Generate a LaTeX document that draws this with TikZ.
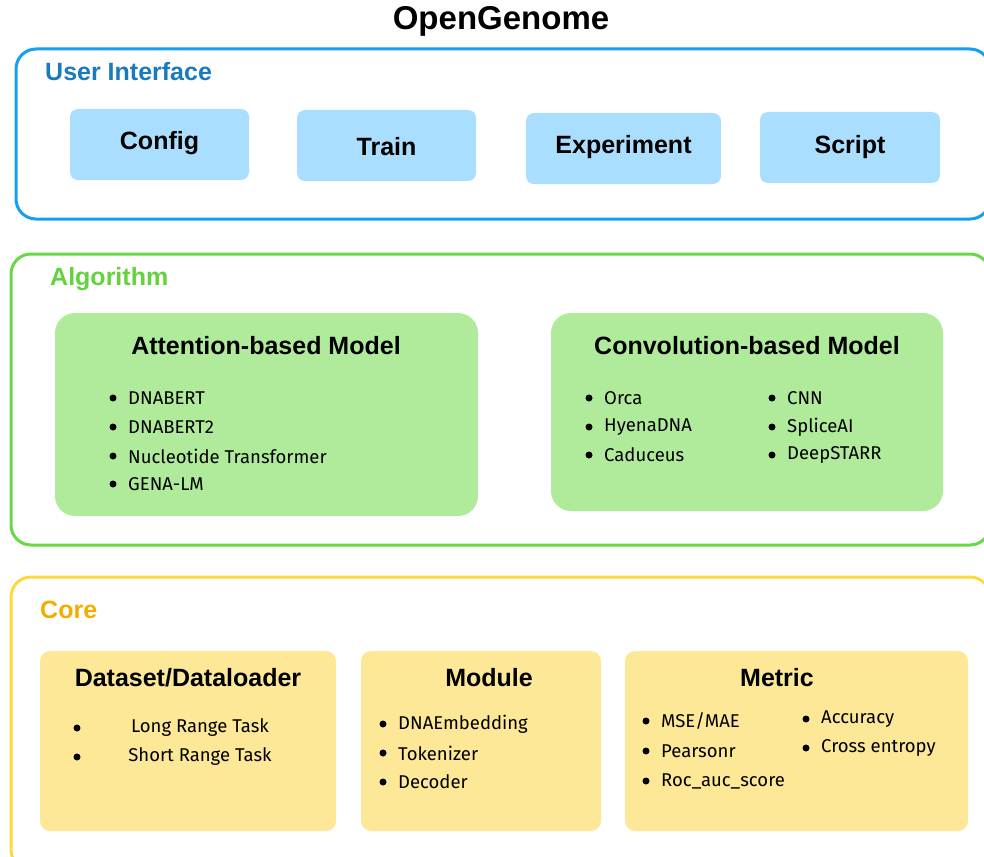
\documentclass[tikz,border=0pt]{standalone}
\usepackage{fontspec}
\setmainfont{Liberation Sans}
\newfontfamily\itemfont{Fira Sans}
\definecolor{uiframe}{RGB}{20,160,240}
\definecolor{uilabel}{RGB}{25,122,190}
\definecolor{uifill}{RGB}{170,222,255}
\definecolor{algframe}{RGB}{105,215,70}
\definecolor{alglabel}{RGB}{100,210,60}
\definecolor{algfill}{RGB}{176,235,156}
\definecolor{coreframe}{RGB}{252,217,60}
\definecolor{corelabel}{RGB}{245,172,0}
\definecolor{corefill}{RGB}{253,232,152}
\tikzset{
  layer/.style={line width=3pt, rounded corners=20pt},
  layerlabel/.style={anchor=base west, font=\fontsize{25}{28}\selectfont\bfseries, inner sep=0pt},
  uibox/.style={fill=uifill, rounded corners=8pt},
  modbox/.style={rounded corners=20pt},
  boxtitle/.style={font=\fontsize{25}{28}\selectfont\bfseries, inner sep=0pt},
  itemtxt/.style={anchor=west, font=\itemfont\fontsize{18.5}{21}\selectfont, inner sep=0pt}
}
% bullet item: x, y, name, text
\newcommand{\bitem}[4]{\fill (#1,#2) circle (3.5pt); \node[itemtxt] (#3) at (#1+15,#2) {#4};}

\begin{document}
\begin{tikzpicture}[x=1pt, y=-1pt]
    \useasboundingbox (0,0) rectangle (984,856);
    \node[font=\fontsize{33}{36}\selectfont\bfseries] (title) at (501,21) {OpenGenome};
    % user interface
    \draw[layer, uiframe] (16,49) rectangle (990,219);
    \node[layerlabel, text=uilabel] (uilbl) at (45,81) {User Interface};
    \fill[uibox] (70,109) rectangle (249,180);
    \node[boxtitle] (config) at (159.5,143) {Config};
    \fill[uibox] (297,110) rectangle (476,181);
    \node[boxtitle] (train) at (386.5,147) {Train};
    \fill[uibox] (526,113) rectangle (721,184);
    \node[boxtitle] (experiment) at (623.5,147) {Experiment};
    \fill[uibox] (760,112) rectangle (940,183);
    \node[boxtitle] (script) at (850,147) {Script};
    % algorithm
    \draw[layer, algframe] (11,254) rectangle (990,545);
    \node[layerlabel, text=alglabel] (alglbl) at (50,285) {Algorithm};
    \fill[modbox, algfill] (55,313) rectangle (478,516);
    \node[boxtitle] (attn) at (266,346) {Attention-based Model};
    \bitem{113}{398}{dnabert}{DNABERT}
    \bitem{113}{427}{dnabert2}{DNABERT2}
    \bitem{113}{456}{nt}{Nucleotide Transformer}
    \bitem{113}{484}{gena}{GENA-LM}
    \fill[modbox, algfill] (551,313) rectangle (943,511);
    \node[boxtitle] (conv) at (747,346) {Convolution-based Model};
    \bitem{589}{398}{orca}{Orca}
    \bitem{589}{427}{hyena}{HyenaDNA}
    \bitem{589}{455}{caduceus}{Caduceus}
    \bitem{772}{398}{cnn}{CNN}
    \bitem{772}{427}{splice}{SpliceAI}
    \bitem{772}{455}{starr}{DeepSTARR}
    % core
    \draw[layer, coreframe] (11,577) rectangle (990,870);
    \node[layerlabel, text=corelabel] (corelbl) at (40,618) {Core};
    \fill[modbox, rounded corners=10pt, corefill] (40,651) rectangle (336,831);
    \node[boxtitle] (data) at (188,678) {Dataset/Dataloader};
    \fill (77,728) circle (3.5pt); \node[itemtxt, anchor=center] (long) at (200,728) {Long Range Task};
    \fill (77,757) circle (3.5pt); \node[itemtxt, anchor=center] (short) at (200,757) {Short Range Task};
    \fill[modbox, rounded corners=10pt, corefill] (361,651) rectangle (601,831);
    \node[boxtitle] (module) at (489,678) {Module};
    \bitem{383}{724}{embed}{DNAEmbedding}
    \bitem{383}{753}{token}{Tokenizer}
    \bitem{383}{782}{decoder}{Decoder}
    \fill[modbox, rounded corners=10pt, corefill] (625,651) rectangle (968,831);
    \node[boxtitle] (metric) at (777,678) {Metric};
    \bitem{646}{721}{mse}{MSE/MAE}
    \bitem{646}{751}{pearson}{Pearsonr}
    \bitem{646}{781}{roc}{Roc\_auc\_score}
    \bitem{806}{719}{acc}{Accuracy}
    \bitem{806}{748}{ce}{Cross entropy}
\end{tikzpicture}
\end{document}
